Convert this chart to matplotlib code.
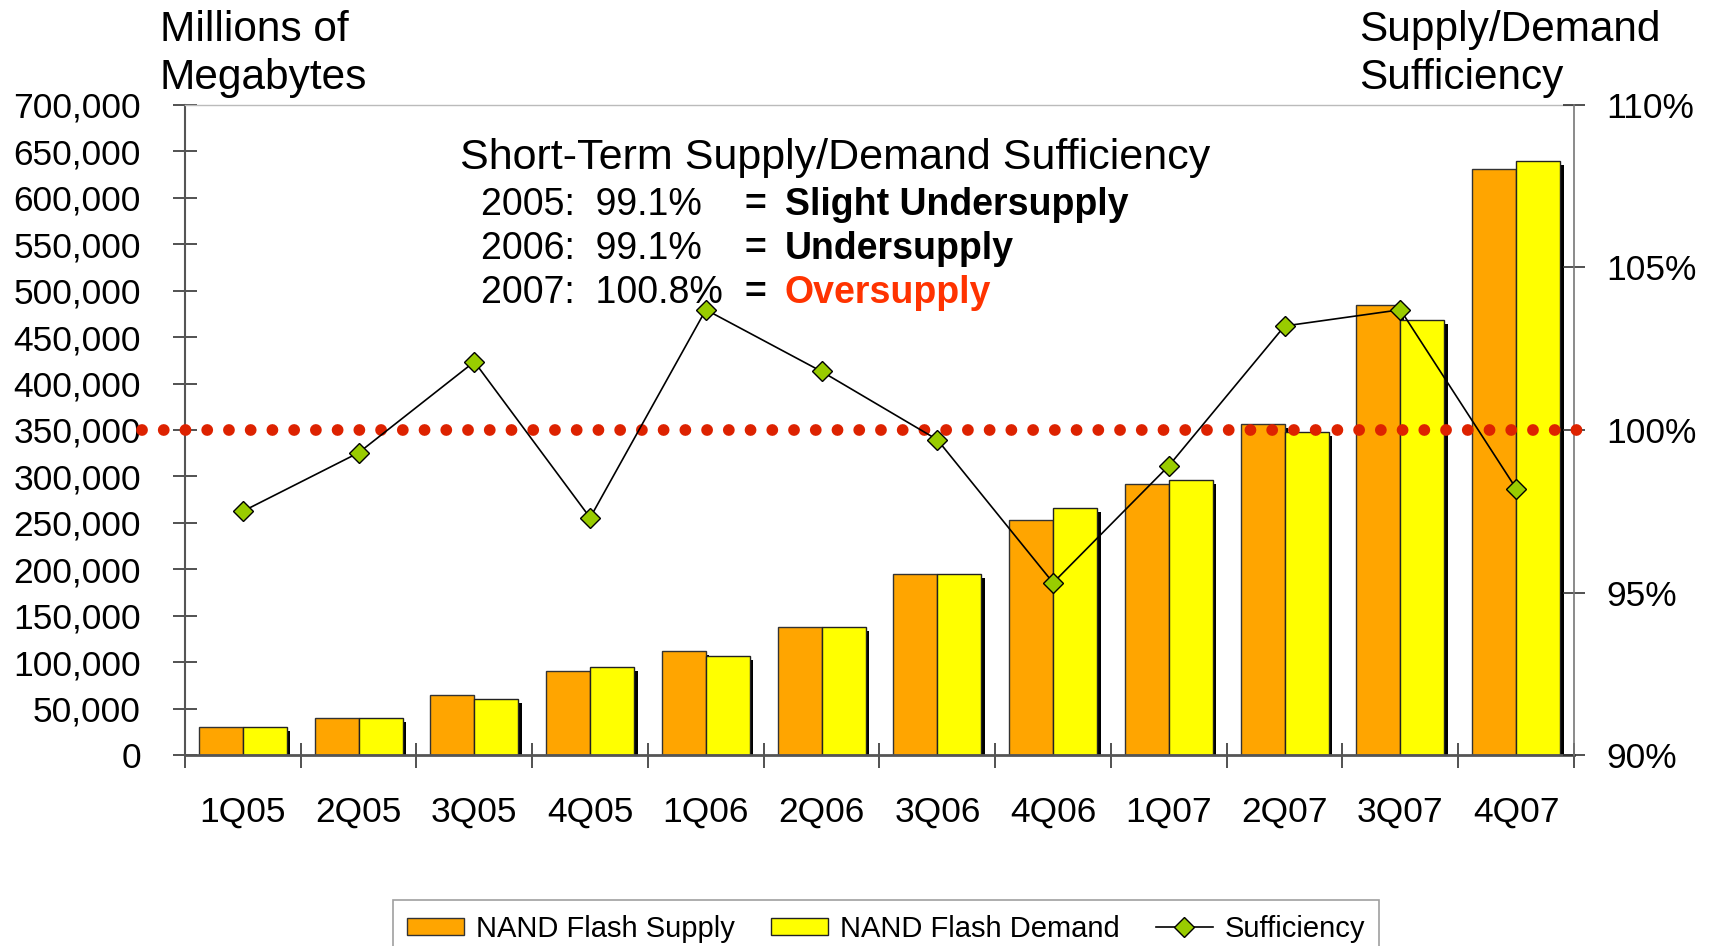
import matplotlib
matplotlib.use("Agg")
import matplotlib.pyplot as plt
import numpy as np

plt.rcParams['font.family'] = ['Liberation Sans', 'DejaVu Sans']

quarters = ['1Q05', '2Q05', '3Q05', '4Q05', '1Q06', '2Q06',
            '3Q06', '4Q06', '1Q07', '2Q07', '3Q07', '4Q07']
supply = [30500, 39500, 64500, 90500, 112000, 137500,
          194500, 253000, 292000, 356000, 485000, 631000]
demand = [30500, 39500, 60000, 95000, 107000, 137500,
          194500, 266000, 296500, 348000, 468000, 639500]
sufficiency = [97.5, 99.3, 102.1, 97.3, 103.7, 101.8,
               99.7, 95.3, 98.9, 103.2, 103.7, 98.2]
balance_line = 100

year_lines = [('2005:  99.1%', 'Slight Undersupply', 'black'),
              ('2006:  99.1%', 'Undersupply', 'black'),
              ('2007:  100.8%', 'Oversupply', '#FF3300')]

fig = plt.figure(figsize=(17.09, 9.46), dpi=100)
ax = fig.add_axes([0.10825, 0.20190, 0.81275, 0.68711])
ax2 = ax.twinx()
ax2.set_position([0.10825, 0.20190, 0.81275, 0.68711])

x = np.arange(len(quarters))
w = 0.38
shift = 0.03    # shadow offset (about 3-4 px)
drop = 4300     # shadow drop (about 4 px)

# shadows
ax.bar(x - w / 2 + shift, np.array(supply) - drop, w, color='black', zorder=1)
ax.bar(x + w / 2 + shift, np.array(demand) - drop, w, color='black', zorder=1)
b1 = ax.bar(x - w / 2, supply, w, color='#FFA500', edgecolor='#333333', linewidth=1, zorder=2)
b2 = ax.bar(x + w / 2, demand, w, color='#FFFF00', edgecolor='#222222', linewidth=1, zorder=2)

ax.set_xlim(-0.5, len(quarters) - 0.5)
ax.set_ylim(0, 700000)
ax.set_yticks(np.arange(0, 700001, 50000))
ax.set_yticklabels(['{:,}'.format(v) for v in range(0, 700001, 50000)])
ax.tick_params(axis='y', direction='inout', length=17.5, width=1.2, pad=23,
               labelsize=25.5, color='#333333')
ax.set_xticks(x)
ax.set_xticklabels(quarters)
ax.set_xticks(np.arange(-0.5, len(quarters), 1), minor=True)
ax.tick_params(axis='x', which='major', length=0, pad=29, labelsize=25.5)
ax.tick_params(axis='x', which='minor', direction='inout', length=18, width=1.2,
               color='#333333')

ax.spines['left'].set_color('#555555')
ax.spines['left'].set_linewidth(1.5)
ax.spines['bottom'].set_color('#555555')
ax.spines['bottom'].set_linewidth(2)
ax.spines['top'].set_color('#BBBBBB')
ax.spines['top'].set_linewidth(1)
ax.spines['right'].set_visible(False)

# dotted 100% reference line
ax2.plot([-0.87, 11.55], [balance_line, balance_line], color='#DD2200',
         linewidth=8.5, linestyle=(0, (0.001, 1.84)), dash_capstyle='round',
         clip_on=False, zorder=3)
l1, = ax2.plot(x, sufficiency, color='black', linewidth=1.2, marker='D',
               markersize=10.5, markerfacecolor='#99CC00', markeredgecolor='black',
               markeredgewidth=1, zorder=4)
ax2.set_ylim(90, 110)
ax2.set_yticks([90, 95, 100, 105, 110])
ax2.set_yticklabels(['90%', '95%', '100%', '105%', '110%'])
ax2.tick_params(axis='y', direction='inout', length=16, width=1.2, pad=15,
                labelsize=25.5, color='#333333')
for s in ['left', 'top', 'bottom']:
    ax2.spines[s].set_visible(False)
ax2.spines['right'].set_color('#777777')
ax2.spines['right'].set_linewidth(1.2)

fig.text(0.0936, 0.9567, 'Millions of', fontsize=30.5, va='baseline')
fig.text(0.0936, 0.9060, 'Megabytes', fontsize=30.5, va='baseline')
fig.text(0.7952, 0.9567, 'Supply/Demand', fontsize=30.5, va='baseline')
fig.text(0.7952, 0.9060, 'Sufficiency', fontsize=30.5, va='baseline')

fig.text(0.2692, 0.8214, 'Short-Term Supply/Demand Sufficiency', fontsize=31, va='baseline')
for i, (left, right, col) in enumerate(year_lines):
    yy = 0.7727 - i * 0.0465
    fig.text(0.2815, yy, left, fontsize=27, va='baseline')
    fig.text(0.4354, yy, '=', fontsize=27, fontweight='bold', va='baseline')
    fig.text(0.4593, yy, right, fontsize=27, fontweight='bold', color=col, va='baseline')

leg = fig.legend([b1, b2, l1], ['NAND Flash Supply', 'NAND Flash Demand', 'Sufficiency'],
                 loc='upper center', bbox_to_anchor=(0.5184, 0.0486), ncol=3,
                 fontsize=21, frameon=True, fancybox=False, edgecolor='#888888',
                 handlelength=1.95, handleheight=0.55, handletextpad=0.4,
                 columnspacing=1.25, borderpad=0.5, borderaxespad=0)
leg.get_frame().set_linewidth(1.2)

fig.savefig('out.png', dpi=100)
